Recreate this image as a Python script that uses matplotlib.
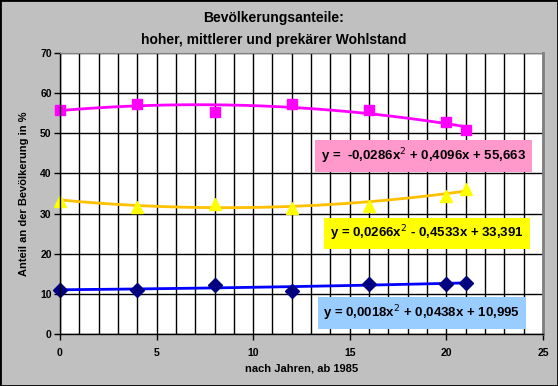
import numpy as np
import matplotlib.pyplot as plt

plt.rcParams['font.family'] = ['Liberation Sans', 'DejaVu Sans']

# Data (years after 1985)
jahre = [0, 4, 8, 12, 16, 20, 21]
hoher = [55.8, 57.3, 55.3, 57.2, 55.7, 52.8, 50.9]
mittlerer = [33.1, 31.6, 32.3, 31.5, 31.8, 34.3, 36.1]
prekaerer = [11.0, 10.9, 12.1, 10.8, 12.4, 12.5, 12.7]

# Trendline coefficients as printed on the chart (a2, a1, a0)
coef_hoher = [-0.0286, 0.4096, 55.663]
coef_mittlerer = [0.0266, -0.4533, 33.391]
coef_prekaerer = [0.0018, 0.0438, 10.995]

labels = ['y =  -0,0286x$^2$ + 0,4096x + 55,663',
          'y = 0,0266x$^2$ - 0,4533x + 33,391',
          'y = 0,0018x$^2$ + 0,0438x + 10,995']

fig = plt.figure(figsize=(5.58, 3.86), dpi=100, facecolor='#c0c0c0')
ax = fig.add_axes([0.1075, 0.135, 0.8655, 0.7275])
ax.set_facecolor('white')

# grid
ax.set_xlim(0, 25)
ax.set_ylim(0, 70)
ax.set_xticks(np.arange(0, 26, 5))
ax.set_xticks(np.arange(0, 26, 1), minor=True)
ax.set_yticks(np.arange(0, 71, 10))
ax.grid(True, which='both', axis='x', color='black', lw=1)
ax.grid(True, which='major', axis='y', color='black', lw=1)
ax.set_axisbelow(True)
ax.tick_params(which='minor', length=0)
ax.tick_params(which='major', length=4, width=1, labelsize=7.5, pad=2)
for lab in ax.get_xticklabels() + ax.get_yticklabels():
    lab.set_fontweight('bold')
ax.tick_params(axis='x', pad=6)
ax.spines['top'].set_color('#808080')
ax.spines['right'].set_color('#808080')
ax.spines['right'].set_linewidth(2)
ax.spines['left'].set_linewidth(1)
ax.spines['bottom'].set_linewidth(1)

xs = np.linspace(0, 21, 200)
ax.plot(xs, np.polyval(coef_hoher, xs), color='#ff00ff', lw=2)
ax.plot(xs, np.polyval(coef_mittlerer, xs), color='#ffc000', lw=2)
ax.plot(xs, np.polyval(coef_prekaerer, xs), color='#0000ff', lw=2)

ax.plot(jahre, hoher, ls='none', marker='s', ms=7, color='#ff00ff', clip_on=False)
ax.plot(jahre, mittlerer, ls='none', marker='^', ms=9, color='#ffff00', clip_on=False)
ax.plot(jahre, prekaerer, ls='none', marker='D', ms=7, color='#000080', clip_on=False)

box_colors = ['#ff99cc', '#ffff00', '#99ccff']
box_pos = [(18.84, 44.3), (19.0, 25.0), (18.74, 5.2)]
for lab, c, (bx, by) in zip(labels, box_colors, box_pos):
    ax.text(bx, by, lab, ha='center', va='center', fontsize=9.5, fontweight='bold',
            bbox=dict(boxstyle='square,pad=0.45', fc=c, ec='none'))

ax.set_xlabel('nach Jahren, ab 1985', fontsize=8, fontweight='bold', labelpad=4)
ax.set_ylabel('Anteil an der Bevölkerung in %', fontsize=8, fontweight='bold', labelpad=8)

fig.text(0.491, 0.953, 'Bevölkerungsanteile:', ha='center', va='center',
         fontsize=10, fontweight='bold')
fig.text(0.491, 0.897, 'hoher, mittlerer und prekärer Wohlstand', ha='center', va='center',
         fontsize=10, fontweight='bold')

# black frame around the whole chart
fig.patches.append(plt.Rectangle((0, 0), 1, 1, transform=fig.transFigure,
                                 fill=False, ec='black', lw=2))

fig.savefig('out.png', dpi=100, facecolor=fig.get_facecolor())
